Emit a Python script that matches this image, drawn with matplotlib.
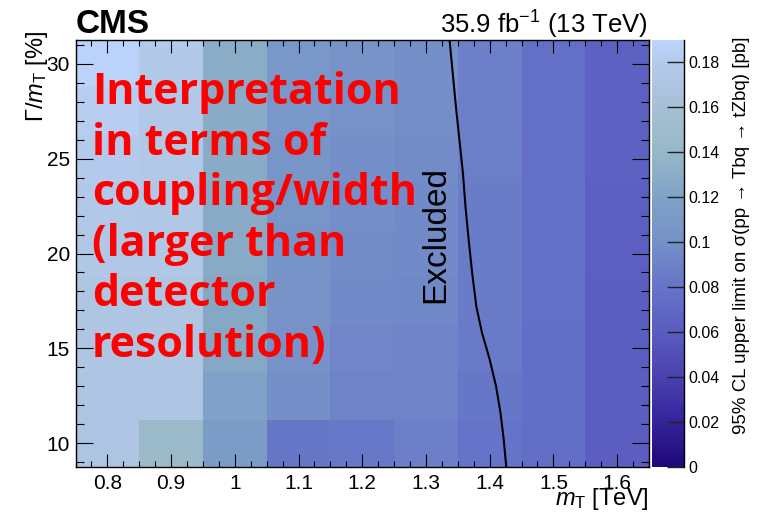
import numpy as np
import matplotlib.pyplot as plt
from matplotlib.colors import LinearSegmentedColormap
from matplotlib.ticker import MultipleLocator, FormatStrFormatter

plt.rcParams['font.family'] = ['Liberation Sans', 'DejaVu Sans']
plt.rcParams['mathtext.fontset'] = 'custom'
plt.rcParams['mathtext.rm'] = 'Liberation Sans'
plt.rcParams['mathtext.it'] = 'Liberation Sans:italic'
plt.rcParams['mathtext.bf'] = 'Liberation Sans:bold'

# T' mass points [TeV] and relative widths [%]
masses = [0.8, 0.9, 1.0, 1.1, 1.2, 1.3, 1.4, 1.5, 1.6]
widths = [10, 12.5, 15, 17.5, 20, 22.5, 25, 27.5, 30]

# 95% CL upper limits [pb]; one row per width, one column per mass
limits = [
    [0.170, 0.145, 0.113, 0.082, 0.083, 0.088, 0.079, 0.074, 0.061],  # 10
    [0.170, 0.170, 0.120, 0.100, 0.092, 0.091, 0.082, 0.075, 0.061],  # 12.5
    [0.171, 0.171, 0.125, 0.102, 0.093, 0.092, 0.084, 0.075, 0.062],  # 15
    [0.172, 0.172, 0.126, 0.103, 0.095, 0.094, 0.085, 0.076, 0.062],  # 17.5
    [0.174, 0.173, 0.127, 0.104, 0.097, 0.095, 0.086, 0.076, 0.063],  # 20
    [0.176, 0.174, 0.127, 0.105, 0.099, 0.096, 0.086, 0.076, 0.063],  # 22.5
    [0.179, 0.175, 0.128, 0.106, 0.100, 0.097, 0.087, 0.077, 0.064],  # 25
    [0.183, 0.176, 0.128, 0.107, 0.102, 0.099, 0.088, 0.077, 0.065],  # 27.5
    [0.188, 0.178, 0.129, 0.108, 0.103, 0.100, 0.088, 0.077, 0.065],  # 30
]

# Exclusion boundary (mass limit vs width)
excl_mass = [1.337, 1.342, 1.347, 1.3525, 1.358, 1.362, 1.367, 1.3725,
             1.379, 1.388, 1.400, 1.410, 1.417, 1.422, 1.426]
excl_width = [31.25, 29.5, 27.74, 25.98, 24.23, 22.47, 20.72, 18.97,
              17.21, 15.81, 14.41, 13.0, 11.6, 10.2, 8.75]

zmax = 0.19
cmap = LinearSegmentedColormap.from_list('limit', [
    (0.000, '#1e0878'), (0.105, '#34249a'), (0.210, '#4a42b0'),
    (0.316, '#5a5cc0'), (0.421, '#6674c8'), (0.526, '#7590c8'),
    (0.632, '#80a2c8'), (0.737, '#96b8c6'), (0.842, '#a6c0d6'),
    (0.947, '#b4caec'), (1.000, '#bcd4fc'),
])

m = np.array(masses)
w = np.array(widths)
dm = (m[1] - m[0]) / 2
dw = (w[1] - w[0]) / 2
m_edges = np.append(m - dm, m[-1] + dm)
w_edges = np.append(w - dw, w[-1] + dw)

fig = plt.figure(figsize=(7.59, 5.17), dpi=100)
W, H = 759, 517
ax = fig.add_axes([75.5 / W, (H - 467) / H, 573.5 / W, 427 / H])
cax = fig.add_axes([652 / W, (H - 467) / H, 32 / W, 427 / H])

mesh = ax.pcolormesh(m_edges, w_edges, np.array(limits), cmap=cmap,
                     vmin=0, vmax=zmax, shading='flat')
ax.plot(excl_mass, excl_width, color='black', lw=1.5)

ax.set_xlim(m_edges[0], m_edges[-1])
ax.set_ylim(w_edges[0], w_edges[-1])

# ROOT-like ticks: inward, on all four sides
ax.xaxis.set_major_locator(MultipleLocator(0.1))
ax.xaxis.set_minor_locator(MultipleLocator(0.025))
ax.yaxis.set_major_locator(MultipleLocator(5))
ax.yaxis.set_minor_locator(MultipleLocator(1))
ax.xaxis.set_major_formatter(FormatStrFormatter('%g'))
ax.tick_params(which='both', direction='in', top=True, right=True,
               width=0.8, labelsize=15)
ax.tick_params(axis='x', which='major', length=9.2, pad=5)
ax.tick_params(axis='x', which='minor', length=4.6)
ax.tick_params(axis='y', which='major', length=12.2, pad=4)
ax.tick_params(axis='y', which='minor', length=6.1)
for s in ax.spines.values():
    s.set_linewidth(1.0)

ax.set_xlabel(r'$m_{\mathrm{T}}$ [TeV]', fontsize=17, loc='right')
ax.xaxis.set_label_coords(1.0, -0.045)
ax.xaxis.label.set_va('top')
ax.set_ylabel(r'$\Gamma/m_{\mathrm{T}}$ [%]', fontsize=17, loc='top')
ax.yaxis.set_label_coords(-0.045, 1.02)

# Colour scale
cbar = fig.colorbar(mesh, cax=cax)
cbar.set_ticks(np.arange(0, 0.19, 0.02))
cbar.ax.yaxis.set_major_formatter(FormatStrFormatter('%g'))
cbar.ax.tick_params(direction='in', length=12, width=1.0, labelsize=11.5,
                    pad=3, color='#222222')
cbar.outline.set_visible(False)
cax.plot([1, 1], [0, 1], transform=cax.transAxes, color='black', lw=1.0,
         clip_on=False)
cbar.set_label(r'95% CL upper limit on σ(pp → Tbq → tZbq) [pb]',
               fontsize=13.5, loc='top')
cax.yaxis.set_label_coords(2.53, 1.008)

# Annotations inside the frame
ax.text(1.316, 21.0, 'Excluded', rotation=90, ha='center', va='center',
        fontsize=24)
ax.text(0.7755, 29.62,
        'Interpretation\nin terms of\ncoupling/width\n(larger than\n'
        'detector\nresolution)',
        color='#ff0000', fontsize=31, fontweight='bold', family='Open Sans',
        ha='left', va='top', linespacing=1.23)

fig.text(76 / W, (H - 33.3) / H, 'CMS', fontsize=24, fontweight='bold',
         ha='left', va='baseline')
fig.text(648 / W, (H - 33.3) / H, r'35.9 fb$^{-1}$ (13 TeV)', fontsize=18.5,
         ha='right', va='baseline')

fig.savefig('out.png', dpi=100)
